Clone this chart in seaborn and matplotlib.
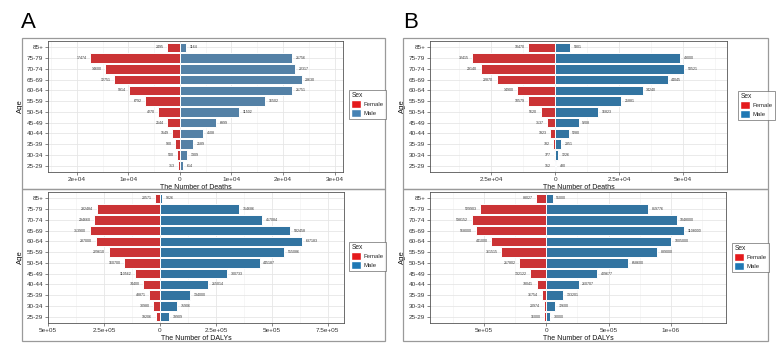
import matplotlib
matplotlib.use("Agg")
import matplotlib.pyplot as plt
from matplotlib.patches import Rectangle, Patch
from matplotlib.ticker import FixedLocator
import numpy as np
import pandas as pd
import seaborn as sns

ages = ["85+", "75-79", "70-74", "65-69", "60-64", "55-59", "50-54",
        "45-49", "40-44", "35-39", "30-34", "25-29"]

deaths_a_female = [2495, 17474, 14600, 12751, 9914, 6792, 4270, 2544, 1549, 900, 500, 313]
deaths_a_male = [1164, 21756, 22317, 23630, 21751, 16502, 11502, 6999, 4508, 2589, 1309, 614]
deaths_b_female = [10470, 32415, 29140, 22870, 14900, 10579, 5620, 3137, 1923, 782, 377, 152]
deaths_b_male = [5801, 49000, 50521, 44045, 34240, 25881, 16823, 9208, 5280, 2351, 1226, 480]
dalys_a_female = [20571, 282484, 294660, 313900, 287000, 229610, 160700, 110562, 74400, 48871, 30980, 19206]
dalys_a_male = [9026, 354686, 457084, 582458, 637183, 555086, 445187, 300733, 215014, 134000, 75906, 39909]
dalys_b_female = [83027, 529903, 598152, 568000, 441000, 361515, 217802, 132122, 78041, 36754, 20974, 16000]
dalys_b_male = [51000, 819776, 1048000, 1108000, 1005000, 889000, 658600, 409677, 260707, 133201, 72600, 30000]

sns.set_theme(style="white")
plt.rcParams['font.family'] = ['Liberation Sans', 'DejaVu Sans']

W, H = 779, 347
fig = plt.figure(figsize=(W / 100, H / 100), dpi=100)

def fx(px):
    return px / W

def fy(py):
    return 1 - py / H

RED = "#E41A1C"

panels = [
    # (female, male, male color, px box, xlim, ticks, ticklabels, minor, xlabel, legend box)
    (deaths_a_female, deaths_a_male, "#4682B4", (48, 41, 343, 172),
     (-25630, 31650), [-2e4, -1e4, 0, 1e4, 2e4, 3e4],
     ["2e+04", "1e+04", "0", "1e+04", "2e+04", "3e+04"],
     [-2.5e4, -1.5e4, -5e3, 5e3, 1.5e4, 2.5e4], "The Number of Deaths", (349, 90, 383, 123)),
    (dalys_a_female, dalys_a_male, "#1F78B4", (48, 192, 344, 323),
     (-501000, 822800), [-5e5, -2.5e5, 0, 2.5e5, 5e5, 7.5e5],
     ["5e+05", "2.5e+05", "0", "2.5e+05", "5e+05", "7.5e+05"],
     [-3.75e5, -1.25e5, 1.25e5, 3.75e5, 6.25e5], "The Number of DALYs", (349, 242, 383, 274)),
    (deaths_b_female, deaths_b_male, "#1F78B4", (430, 41, 727, 172),
     (-49020, 67330), [-2.5e4, 0, 2.5e4, 5e4],
     ["2.5e+04", "0", "2.5e+04", "5e+04"],
     [-3.75e4, -1.25e4, 1.25e4, 3.75e4, 6.25e4], "The Number of Deaths", (738, 91, 766, 123)),
    (dalys_b_female, dalys_b_male, "#1F78B4", (430, 192, 726, 323),
     (-935000, 1444500), [-5e5, 0, 5e5, 1e6],
     ["5e+05", "0", "5e+05", "1e+06"],
     [-7.5e5, -2.5e5, 2.5e5, 7.5e5, 1.25e6], "The Number of DALYs", (732, 243, 766, 274)),
]

for fem, mal, mcol, (x0, y0, x1, y1), xlim, ticks, tlabels, minor, xlabel, lbox in panels:
    ax = fig.add_axes([fx(x0), fy(y1), fx(x1 - x0), (y1 - y0) / H])
    df = pd.DataFrame({
        "Age": ages * 2,
        "Sex": ["Female"] * len(ages) + ["Male"] * len(ages),
        "value": [-v for v in fem] + list(mal),
    })
    ax.set_axisbelow(True)
    sns.barplot(data=df, y="Age", x="value", hue="Sex", order=ages,
                palette={"Female": RED, "Male": mcol}, dodge=False,
                orient="h", width=0.9, edgecolor="white", linewidth=0.7,
                legend=False, ax=ax)
    span = xlim[1] - xlim[0]
    for i, (f, m) in enumerate(zip(fem, mal)):
        ax.text(-f - span * 0.012, i, f"{f}", ha="right", va="center",
                fontsize=2.6, color="#333333")
        ax.text(m + span * 0.012, i, f"{m}", ha="left", va="center",
                fontsize=2.6, color="#333333")
    ax.set_xlim(*xlim)
    ax.set_ylim(len(ages) - 0.4, -0.6)
    ax.xaxis.set_major_locator(FixedLocator(ticks))
    ax.set_xticklabels(tlabels)
    ax.xaxis.set_minor_locator(FixedLocator(minor))
    ax.grid(True, which="major", color="#E6E6E6", linewidth=0.6)
    ax.grid(True, which="minor", axis="x", color="#F0F0F0", linewidth=0.4)
    ax.tick_params(axis="both", which="major", labelsize=4.6, length=2,
                   width=0.5, color="#555555", pad=1.5, labelcolor="#333333")
    ax.tick_params(axis="x", which="minor", length=0)
    ax.tick_params(axis="both", bottom=True, left=True)
    ax.set_xlabel(xlabel, fontsize=5, labelpad=1.5, color="#111111")
    ax.set_ylabel("Age", fontsize=5.5, labelpad=1.5, color="#111111")
    for s in ax.spines.values():
        s.set_color("#555555")
        s.set_linewidth(0.6)
    # legend
    handles = [Patch(facecolor=RED, edgecolor="white", label="Female"),
               Patch(facecolor=mcol, edgecolor="white", label="Male")]
    lx0, ly0, lx1, ly1 = lbox
    leg = fig.legend(handles=handles, title="Sex", loc="upper left",
                     bbox_to_anchor=(fx(lx0), fy(ly0)), fontsize=4.3,
                     title_fontsize=4.8, frameon=True, borderpad=0.4,
                     handlelength=1.6, handleheight=1.6, handletextpad=0.5,
                     labelspacing=0.15, borderaxespad=0, alignment="left")
    leg.get_frame().set_edgecolor("#666666")
    leg.get_frame().set_linewidth(0.6)
    leg.get_frame().set_boxstyle("square", pad=0)

# outer frames
for (x0, y0, x1, y1) in [(22, 38, 385, 189), (22, 189, 385, 341),
                         (403, 38, 768, 189), (403, 189, 768, 341)]:
    fig.add_artist(Rectangle((fx(x0), fy(y1)), fx(x1 - x0), (y1 - y0) / H,
                             transform=fig.transFigure, fill=False,
                             edgecolor="#9A9A9A", linewidth=0.9))

fig.text(fx(21), fy(23), "A", fontsize=16, ha="left", va="center", color="black")
fig.text(fx(403), fy(23), "B", fontsize=16, ha="left", va="center", color="black")

fig.savefig("out.png", dpi=100)
